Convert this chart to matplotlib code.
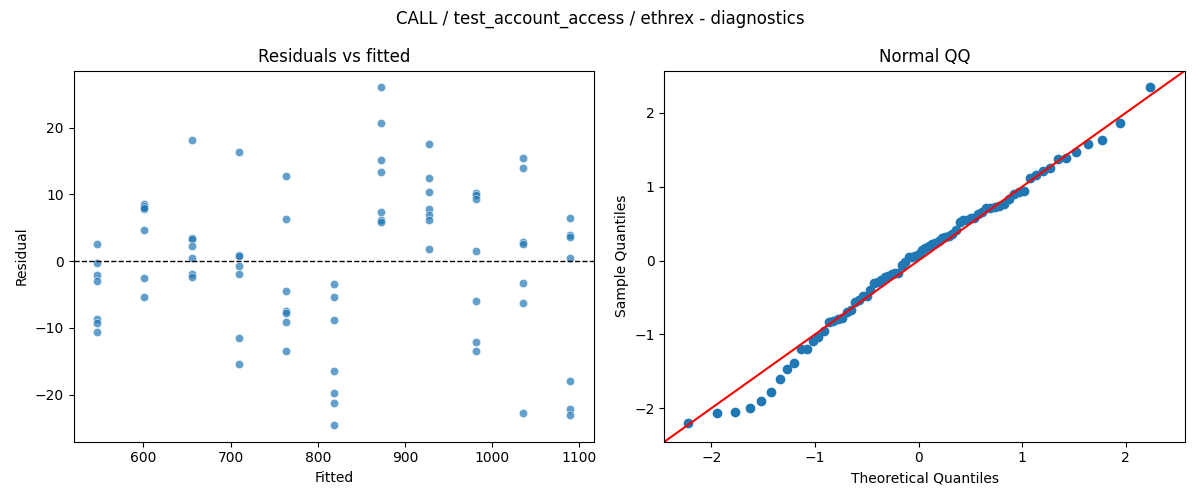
#!/usr/bin/env python3

from statistics import NormalDist

import matplotlib
matplotlib.use('Agg')
import matplotlib.pyplot as plt
import numpy as np
import seaborn as sns

title = 'CALL / test_account_access / ethrex - diagnostics'

# fitted value of each group and the residuals
fitted_levels = [547, 601, 656, 710, 764, 819, 873, 928, 982, 1036, 1090]
residuals_by_level = [
    [2.5, -0.3, -2.0, -3.0, -8.6, -9.2, -10.6],
    [8.5, 8.2, 7.8, 4.6, -2.5, -5.4, 8.0],
    [18.1, 3.5, 3.3, 2.2, 0.45, -1.9, -2.4],
    [16.3, 0.9, 0.7, -0.75, -1.9, -11.5, -15.4],
    [12.8, 6.3, -4.5, -7.5, -7.8, -9.1, -13.4],
    [-3.4, -5.4, -8.8, -16.4, -19.8, -21.2, -24.5],
    [26.0, 20.7, 15.2, 13.4, 7.3, 6.1, 5.8],
    [17.5, 12.4, 10.4, 7.8, 6.9, 6.1, 1.8],
    [10.2, 9.9, 9.25, 1.5, -6.0, -12.1, -13.4],
    [15.4, 13.9, 2.9, 2.6, -3.2, -6.2, -22.8],
    [6.4, 3.9, 3.6, 0.45, -17.9, -22.2, -23.0],
]

fitted = []
resid = []
for f, rs in zip(fitted_levels, residuals_by_level):
    for r in rs:
        fitted.append(f)
        resid.append(r)
fitted = np.array(fitted, dtype=float)
resid = np.array(resid)

# normal QQ of the standardised residuals (like statsmodels qqplot, fit=True)
n = len(resid)
sample_q = np.sort((resid - resid.mean()) / resid.std())
theo_q = np.array([NormalDist().inv_cdf(i / (n + 1)) for i in range(1, n + 1)])

fig, (ax1, ax2) = plt.subplots(1, 2, figsize=(12, 5), dpi=100)

sns.scatterplot(x=fitted, y=resid, alpha=0.7, ax=ax1)
ax1.axhline(0, color='black', linestyle='--', linewidth=1)
ax1.set_xlabel('Fitted')
ax1.set_ylabel('Residual')
ax1.set_title('Residuals vs fitted')

ax2.plot(theo_q, sample_q, 'o', color='C0', markersize=6)
xl = ax2.get_xlim()
yl = ax2.get_ylim()
end_pts = [min(xl[0], yl[0]), max(xl[1], yl[1])]
ax2.plot(end_pts, end_pts, 'r')
ax2.set_xlim(end_pts)
ax2.set_ylim(end_pts)
ax2.set_xlabel('Theoretical Quantiles')
ax2.set_ylabel('Sample Quantiles')
ax2.set_title('Normal QQ')

fig.suptitle(title)
fig.tight_layout()
plt.savefig('out.png')
